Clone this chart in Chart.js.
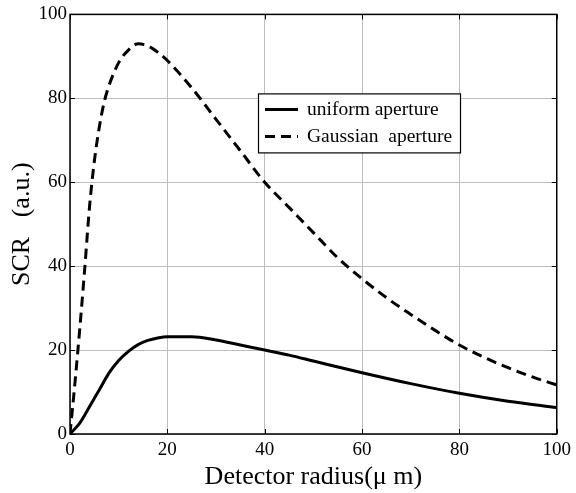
<!DOCTYPE html>
<html>
<head>
<meta charset="utf-8">
<script src="https://cdn.jsdelivr.net/npm/chart.js@4.4.1/dist/chart.umd.min.js"></script>
<style>
  html, body { margin: 0; padding: 0; background: #ffffff; }
  #wrap { width: 576px; height: 493px; }
</style>
</head>
<body>
<div id="wrap"><canvas id="c" width="576" height="493"></canvas></div>
<script>
// detector radius (um)
const radiusUniform = [0, 2, 4, 6, 8, 10, 12, 14, 16, 18, 20, 25, 30, 35, 40, 45, 50, 60, 70, 80, 90, 100];
const scrUniform    = [0, 2.6, 6.5, 10.5, 14.5, 17.5, 19.7, 21.3, 22.3, 22.9, 23.2, 23.2, 22.4, 21.2, 20, 18.8, 17.4, 14.6, 12, 9.7, 7.8, 6.3];

const radiusGauss = [0, 1, 2, 3, 4, 5, 6, 7, 8, 10, 12, 14, 16, 18, 20, 25, 30, 35, 40, 45, 50, 55, 60, 65, 70, 75, 80, 85, 90, 95, 100];
const scrGauss    = [0, 12, 25, 39, 54, 65, 73, 79, 83, 88.5, 91.5, 93, 92.5, 91, 89, 82.5, 75, 67.5, 60, 54, 48, 42, 37, 32.5, 28.5, 24.7, 21.2, 18.3, 15.8, 13.6, 11.7];

const seriesNames = ['uniform aperture', 'Gaussian  aperture'];
const xTicks = [0, 20, 40, 60, 80, 100];
const yTicks = [0, 20, 40, 60, 80, 100];

const serif = "'Liberation Serif', 'Times New Roman', serif";

const toPoints = (xs, ys) => xs.map((x, i) => ({ x: x, y: ys[i] }));

// box round the plot, inward tick marks and the legend inside the plot
const framePlugin = {
    id: 'frame',
    afterDraw(chart) {
        const { ctx, chartArea: a, scales } = chart;
        ctx.save();
        ctx.strokeStyle = '#000';
        ctx.lineWidth = 1.5;
        ctx.strokeRect(a.left, a.top, a.right - a.left, a.bottom - a.top);

        ctx.lineWidth = 1;
        xTicks.forEach(v => {
            const px = Math.round(scales.x.getPixelForValue(v)) + 0.5;
            ctx.beginPath();
            ctx.moveTo(px, a.bottom); ctx.lineTo(px, a.bottom - 5);
            ctx.moveTo(px, a.top); ctx.lineTo(px, a.top + 5);
            ctx.stroke();
        });
        yTicks.forEach(v => {
            const py = Math.round(scales.y.getPixelForValue(v)) + 0.5;
            ctx.beginPath();
            ctx.moveTo(a.left, py); ctx.lineTo(a.left + 5, py);
            ctx.moveTo(a.right, py); ctx.lineTo(a.right - 5, py);
            ctx.stroke();
        });

        // legend
        const bx = a.left + 188, by = a.top + 79, bw = 202, bh = 59;
        ctx.fillStyle = '#fff';
        ctx.fillRect(bx, by, bw, bh);
        ctx.strokeStyle = '#000';
        ctx.lineWidth = 1.2;
        ctx.strokeRect(bx + 0.5, by + 0.5, bw, bh);

        chart.data.datasets.forEach((ds, i) => {
            const ly = by + 16 + i * 27;
            ctx.beginPath();
            ctx.lineWidth = 3;
            ctx.setLineDash(ds.borderDash || []);
            ctx.moveTo(bx + 7, ly);
            ctx.lineTo(bx + 40, ly);
            ctx.stroke();
            ctx.setLineDash([]);
            ctx.fillStyle = '#000';
            ctx.font = '19.5px ' + serif;
            ctx.textBaseline = 'middle';
            ctx.textAlign = 'left';
            ctx.fillText(ds.label, bx + 49, ly);
        });
        ctx.restore();
    }
};

new Chart(document.getElementById('c'), {
    type: 'line',
    data: {
        datasets: [
            {
                label: seriesNames[0],
                data: toPoints(radiusUniform, scrUniform),
                borderColor: '#000',
                borderWidth: 3,
                pointRadius: 0,
                cubicInterpolationMode: 'monotone',
                fill: false
            },
            {
                label: seriesNames[1],
                data: toPoints(radiusGauss, scrGauss),
                borderColor: '#000',
                borderWidth: 3,
                borderDash: [10, 6],
                pointRadius: 0,
                cubicInterpolationMode: 'monotone',
                fill: false
            }
        ]
    },
    options: {
        responsive: false,
        animation: false,
        layout: { padding: { left: 0, right: 16, top: 14, bottom: 0 } },
        plugins: {
            legend: { display: false },
            tooltip: { enabled: false }
        },
        scales: {
            x: {
                type: 'linear',
                min: 0,
                max: 100,
                afterBuildTicks: s => { s.ticks = xTicks.map(v => ({ value: v })); },
                afterFit: s => { s.height = 59; },
                ticks: { color: '#000', font: { family: serif, size: 19 }, padding: 5, maxRotation: 0 },
                grid: { color: '#bdbdbd', lineWidth: 1, drawTicks: false },
                border: { display: false },
                title: {
                    display: true,
                    text: 'Detector radius(\u03bc m)',
                    color: '#000',
                    font: { family: serif, size: 26 },
                    padding: { top: 0, bottom: 0 }
                }
            },
            y: {
                min: 0,
                max: 100,
                afterBuildTicks: s => { s.ticks = yTicks.map(v => ({ value: v })); },
                afterFit: s => { s.width = 70; },
                ticks: { color: '#000', font: { family: serif, size: 19 }, padding: 3 },
                grid: { color: '#bdbdbd', lineWidth: 1, drawTicks: false },
                border: { display: false },
                title: {
                    display: true,
                    text: 'SCR   (a.u.)',
                    color: '#000',
                    font: { family: serif, size: 26 },
                    padding: { top: 7, bottom: 0 }
                }
            }
        }
    },
    plugins: [framePlugin]
});
</script>
</body>
</html>
